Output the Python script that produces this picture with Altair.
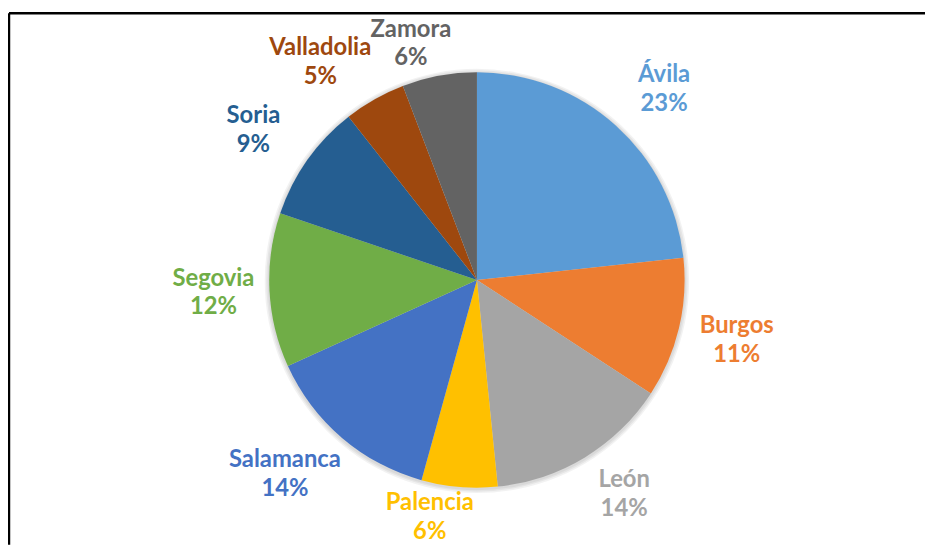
import math
import altair as alt
import pandas as pd

provinces = ["Ávila", "Burgos", "León", "Palencia", "Salamanca", "Segovia", "Soria", "Valladolia", "Zamora"]
shares = [23.3, 10.9, 14.2, 5.9, 13.9, 12.0, 9.2, 4.8, 5.8]
colors = ["#5B9BD5", "#ED7D31", "#A5A5A5", "#FFC000", "#4472C4", "#70AD47", "#255E91", "#9E480E", "#636363"]

df = pd.DataFrame({
    "province": provinces,
    "share": shares,
    "order": list(range(len(provinces))),
})
df["label"] = [f"{p}\n{round(s):.0f}%" for p, s in zip(provinces, shares)]

W, H = 924, 536
CX, CY = 472, 269
R = 209.5

color_scale = alt.Scale(domain=provinces, range=colors)

one = pd.DataFrame({"a": [0]})

# soft shadow ring behind the pie
shadows = [
    alt.Chart(one).mark_arc(outerRadius=R + d, x=CX, y=CY + 1, color="black", opacity=0.05).encode(
        theta=alt.value(0), theta2=alt.value(2 * math.pi)
    )
    for d in (1.5, 3, 4.5)
]

pie = alt.Chart(df).mark_arc(outerRadius=R, x=CX, y=CY).encode(
    theta=alt.Theta("share:Q", stack=True),
    order=alt.Order("order:Q"),
    color=alt.Color("province:N", scale=color_scale, legend=None),
)

# best-fit style labels: just outside the pie, wide labels near the top/bottom
# pushed sideways away from the vertical axis
labels = alt.Chart(df).transform_window(
    cum="sum(share)", sort=[alt.SortField("order")], frame=[None, 0]
).transform_joinaggregate(
    total="sum(share)"
).transform_calculate(
    mid="(datum.cum - datum.share / 2) / datum.total * 2 * PI",
).transform_calculate(
    s="sin(datum.mid)", c="cos(datum.mid)", n="length(datum.province)",
).transform_calculate(
    ux="265 * datum.s + (datum.s < 0 ? -1 : 1) * 0.5 * 6.3 * datum.n * abs(datum.c)",
    uy="datum.c * (262 - 22 * pow(abs(datum.c), 6))",
).transform_calculate(
    lt="atan2(datum.ux, datum.uy)",
    lr="sqrt(datum.ux * datum.ux + datum.uy * datum.uy)",
).mark_text(
    x=CX, y=CY, font="Lato", fontWeight="bold", fontSize=24,
    lineBreak="\n", lineHeight=29, align="center", baseline="middle", dy=-14.5,
).encode(
    theta=alt.Theta("lt:Q", scale=None),
    radius=alt.Radius("lr:Q", scale=None),
    text="label:N",
    color=alt.Color("province:N", scale=color_scale, legend=None),
)

frame_top = alt.Chart(one).mark_rule(color="black", strokeWidth=2.5).encode(
    x=alt.value(0), x2=alt.value(W), y=alt.value(0)
)
frame_left = alt.Chart(one).mark_rule(color="black", strokeWidth=2.5).encode(
    x=alt.value(0), y=alt.value(0), y2=alt.value(H)
)

chart = alt.layer(*shadows, pie, labels, frame_top, frame_left).properties(
    width=W, height=H,
    padding={"left": 1, "top": 3, "right": 0, "bottom": 0},
    autosize=alt.AutoSizeParams(type="none"),
).configure_view(stroke=None)

chart.save("out.html", embed_options={"renderer": "svg", "actions": False})
